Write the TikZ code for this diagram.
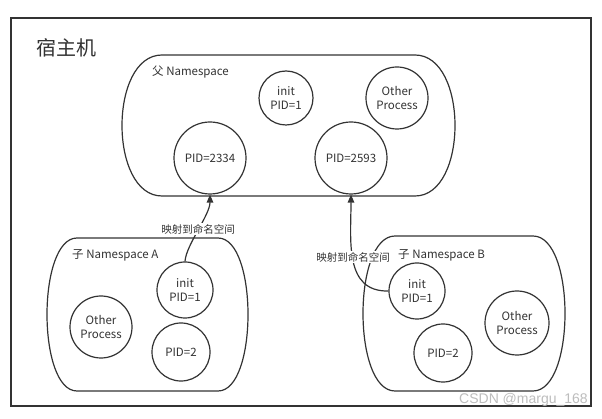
\documentclass[tikz,border=0pt]{standalone}
\usepackage{fontspec}
\setmainfont{Noto Sans CJK SC}
\newfontfamily\wmfont{Liberation Sans}
\usetikzlibrary{arrows.meta}
\definecolor{ink}{HTML}{333333}
\definecolor{wmgray}{HTML}{BDBDBD}
\newcommand\nsblob[5]{%
  \draw[nsline] ({#1+#5},#2) -- ({#3-#5},#2)
    .. controls ({#3+#5/3},#2) and ({#3+#5/3},#4) .. ({#3-#5},#4)
    -- ({#1+#5},#4)
    .. controls ({#1-#5/3},#4) and ({#1-#5/3},#2) .. cycle;}
\begin{document}
\begin{tikzpicture}[x=1pt,y=-1pt,
  nsline/.style={draw=ink,line width=1.2pt},
  proc/.style={circle,draw=ink,line width=1.2pt,inner sep=0pt,align=center,
    text=ink,font=\fontsize{11.5}{13.5}\selectfont},
  nslabel/.style={anchor=west,inner sep=0pt,text=ink,font=\fontsize{11.5}{13}\selectfont},
  maplabel/.style={fill=white,inner sep=1pt,text=ink,font=\fontsize{10.5}{12}\selectfont},
  arr/.style={draw=ink,line width=1.2pt,-{Triangle[length=8pt,width=6.5pt]}}]
\useasboundingbox (0,0) rectangle (602,419);
\fill[white] (0,0) rectangle (602,419);
% host box
\draw[nsline] (11,18) rectangle (591,406);
\node[text=ink,font=\fontsize{20}{22}\selectfont,inner sep=0pt] (title) at (66,48) {宿主机};
% parent namespace
\nsblob{122}{55}{455}{196}{40}
\node[nslabel] (plabel) at (152,72) {父 Namespace};
\node[proc,minimum size=54pt] (pinit) at (286,98) {init\\PID=1};
\node[proc,minimum size=62pt] (pother) at (397,98) {Other\\Process};
\node[proc,minimum size=72pt] (p2334) at (210,158) {PID=2334};
\node[proc,minimum size=72pt] (p2593) at (351,158) {PID=2593};
% child A
\nsblob{47}{238}{248}{391}{30}
\node[nslabel] (alabel) at (72,255) {子 Namespace A};
\node[proc,minimum size=56pt] (ainit) at (185,290) {init\\PID=1};
\node[proc,minimum size=62pt] (aother) at (101,327) {Other\\Process};
\node[proc,minimum size=58pt] (apid2) at (181,352) {PID=2};
% child B
\nsblob{363}{236}{565}{391}{32}
\node[nslabel] (blabel) at (398,255) {子 Namespace B};
\node[proc,minimum size=56pt] (binit) at (417,291) {init\\PID=1};
\node[proc,minimum size=58pt] (bpid2) at (443,353) {PID=2};
\node[proc,minimum size=64pt] (bother) at (517,323) {Other\\Process};
% mappings
\draw[arr] (ainit.north) .. controls (186,245) and (210,215) .. (p2334.south);
\draw[arr] (binit.west) .. controls (344,292) and (351,240) .. (p2593.south);
\node[maplabel] (amap) at (198,229) {映射到命名空间};
\node[maplabel] (bmap) at (353,257) {映射到命名空间};
% watermark
\node[text=wmgray,font=\wmfont\fontsize{14}{14}\selectfont,anchor=east,inner sep=0pt] (wm) at (588,400) {CSDN @margu\_168};
\end{tikzpicture}
\end{document}
